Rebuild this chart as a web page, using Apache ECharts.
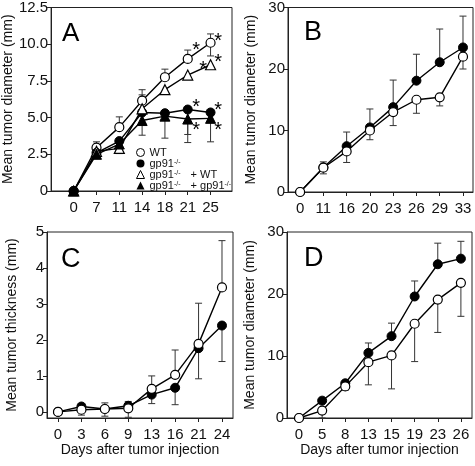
<!DOCTYPE html>
<html><head><meta charset="utf-8">
<script src="https://cdn.jsdelivr.net/npm/echarts@6/dist/echarts.min.js"></script>
<style>html,body{margin:0;padding:0;background:#fff}#c{width:475px;height:466px}</style>
</head><body><div id="c"></div>
<script>
// ---------- DATA ----------
const daysA = ['0','7','11','14','18','21','25'];
const aWT      = [0, 2.95, 4.35, 6.15, 7.75, 9.0, 10.1];
const aWTUp    = [0, 0.4, 0.7, 0.75, 0.55, 0.6, 0.6];
const aWTDn    = [0, 0, 0, 0, 0, 0, 0.9];
const aKO      = [0, 2.6, 3.4, 5.35, 5.3, 5.55, 5.35];
const aKOUp    = [0, 0, 0, 0, 0, 0, 0];
const aKODn    = [0, 0, 0, 0, 0, 1.7, 0];
const aKOWT    = [0, 2.7, 2.9, 5.6, 6.9, 7.9, 8.6];
const aKOWTUp  = [0, 0, 0, 0.95, 0, 0, 0];
const aKOWTDn  = [0, 0, 0.35, 0, 0, 0, 0];
const aKOKO    = [0, 2.5, 3.2, 4.8, 5.1, 4.9, 4.95];
const aKOKOUp  = [0, 0, 0, 0, 0, 0, 0];
const aKOKODn  = [0, 0, 0, 1.0, 1.5, 1.6, 1.6];
const aSig     = [0, 0, 0, 0, 0, 1, 1];
const yTicksA  = [0, 2.5, 5, 7.5, 10, 12.5];

const daysB = ['0','11','16','20','23','26','29','33'];
const bKO   = [0, 4.0, 7.45, 10.5, 13.8, 18.1, 21.1, 23.5];
const bKOUp = [0, 0.9, 2.3, 3.0, 4.4, 4.3, 5.4, 5.1];
const bWT   = [0, 3.95, 6.6, 10.0, 13.0, 15.0, 15.4, 22.0];
const bWTDn = [0, 1.0, 1.8, 1.5, 2.2, 2.2, 1.4, 2.0];
const yTicksB = [0, 10, 20, 30];

const daysC = ['0','3','6','9','13','16','21','24'];
const cWT   = [0, 0.06, 0.08, 0.1, 0.64, 1.03, 1.89, 3.46];
const cWTUp = [0, 0, 0.17, 0.19, 0.36, 0.69, 1.13, 1.3];
const cWTDn = [0, 0.15, 0.2, 0.25, 0, 0, 0, 0];
const cKO   = [0, 0.15, 0.08, 0.17, 0.48, 0.67, 1.77, 2.4];
const cKODn = [0, 0, 0, 0, 0.25, 0.47, 0.85, 1.0];
const yTicksC = [0, 1, 2, 3, 4, 5];

const daysD = ['0','5','8','13','15','19','23','26'];
const dKO   = [0, 2.8, 5.6, 10.5, 13.2, 19.6, 24.8, 25.7];
const dKOUp = [0, 0, 0, 1.6, 2.1, 2.5, 3.4, 2.8];
const dWT   = [0, 1.2, 5.1, 9.0, 10.1, 15.2, 19.1, 21.8];
const dWTDn = [0, 1.2, 0.6, 3.65, 5.4, 6.1, 5.3, 5.4];
const yTicksD = [0, 10, 20, 30];

// ---------- BUILD ----------
const FONT = 'Liberation Sans, Arial, Helvetica, sans-serif';
const grids = [
  {left:47, top:6.5, right:243, bottom:275},
  {left:288, top:6.5, right:2, bottom:274},
  {left:47, top:232, right:242, bottom:48},
  {left:287, top:232, right:3, bottom:48}
].map(g => Object.assign({show:true, borderColor:'#222', borderWidth:1, backgroundColor:'transparent'}, g));

function xAx(gi, days, min, max, withName){
  const idx = days.map((d,i)=>i);
  return {
    type:'value', gridIndex:gi, min:min, max:max,
    splitLine:{show:false},
    axisLine:{show:true, onZero:false, lineStyle:{color:'#222', width:1}},
    axisTick:{show:true, inside:false, length:4, customValues:idx, lineStyle:{color:'#222'}},
    axisLabel:{show:true, customValues:idx, margin:9, fontSize:15, color:'#111', fontFamily:FONT,
      formatter:v => days[Math.round(v)] !== undefined ? days[Math.round(v)] : ''},
    name: withName ? 'Days after tumor injection' : '',
    nameLocation:'middle', nameGap:21,
    nameTextStyle:{fontSize:14, color:'#111', fontFamily:FONT}
  };
}
function yAx(gi, ticks, min, max, name, gap, fmt){
  return {
    type:'value', gridIndex:gi, min:min, max:max,
    splitLine:{show:false},
    axisLine:{show:true, onZero:false, lineStyle:{color:'#222', width:1}},
    axisTick:{show:true, inside:false, length:4, customValues:ticks, lineStyle:{color:'#222'}},
    axisLabel:{show:true, customValues:ticks, margin:3, fontSize:15, color:'#111', fontFamily:FONT, formatter:fmt},
    name:name, nameLocation:'middle', nameGap:gap,
    nameTextStyle:{fontSize:14, color:'#111', fontFamily:FONT}
  };
}
const fmtA = v => v === 0 ? '0' : v.toFixed(1);
const fmtI = v => String(Math.round(v));

const xAxis = [
  xAx(0, daysA, -0.99, 6.94, false),
  xAx(1, daysB, -0.52, 7.43, false),
  xAx(2, daysC, -0.47, 7.47, true),
  xAx(3, daysD, -0.52, 7.48, true)
];
const yAxis = [
  yAx(0, yTicksA, 0, 12.5, 'Mean tumor diameter (mm)', 28, fmtA),
  yAx(1, yTicksB, 0, 30, 'Mean tumor diameter (mm)', 30, fmtI),
  yAx(2, yTicksC, -0.17, 5, 'Mean tumor thickness (mm)', 28, fmtI),
  yAx(3, yTicksD, 0, 30, 'Mean tumor diameter (mm)', 30, fmtI)
];

function errRender(params, api){
  const x = api.value(0), y = api.value(1), up = api.value(2), dn = api.value(3);
  const c = api.coord([x, y]);
  const cap = 3.5;
  const st = {stroke:'#333', lineWidth:1};
  const ch = [];
  if (up > 0){
    const t = api.coord([x, y + up]);
    ch.push({type:'line', shape:{x1:c[0], y1:c[1], x2:t[0], y2:t[1]}, style:st});
    ch.push({type:'line', shape:{x1:t[0]-cap, y1:t[1], x2:t[0]+cap, y2:t[1]}, style:st});
  }
  if (dn > 0){
    const t = api.coord([x, y - dn]);
    ch.push({type:'line', shape:{x1:c[0], y1:c[1], x2:t[0], y2:t[1]}, style:st});
    ch.push({type:'line', shape:{x1:t[0]-cap, y1:t[1], x2:t[0]+cap, y2:t[1]}, style:st});
  }
  return {type:'group', children:ch};
}
function errSeries(gi, vals, up, dn){
  const zeros = vals.map(()=>0);
  up = up || zeros; dn = dn || zeros;
  return {
    type:'custom', xAxisIndex:gi, yAxisIndex:gi, z:1, silent:true,
    renderItem:errRender, encode:{x:0, y:1},
    data: vals.map((v,i)=>[i, v, up[i], dn[i]])
  };
}
const styles = {
  open:   {symbol:'circle', itemStyle:{color:'#fff', borderColor:'#000', borderWidth:1.2}},
  filled: {symbol:'circle', itemStyle:{color:'#000', borderColor:'#000', borderWidth:1}},
  openT:  {symbol:'triangle', itemStyle:{color:'#fff', borderColor:'#000', borderWidth:1.2}},
  filledT:{symbol:'triangle', itemStyle:{color:'#000', borderColor:'#000', borderWidth:1}}
};
function lineSeries(name, gi, vals, kind){
  return Object.assign({
    name:name, type:'line', xAxisIndex:gi, yAxisIndex:gi, z:3,
    symbolSize: kind.indexOf('T') >= 0 ? 10 : 9,
    lineStyle:{color:'#000', width:1.4}, showSymbol:true, animation:false,
    data: vals.map((v,i)=>[i, v])
  }, styles[kind]);
}
// significance asterisks drawn next to flagged points (pixel offsets are styling)
function starSeries(gi, vals, sig, off){
  const data = [];
  vals.forEach((v,i)=>{ if (sig[i]) data.push([i, v]); });
  return {
    type:'custom', xAxisIndex:gi, yAxisIndex:gi, z:6, silent:true,
    encode:{x:0, y:1},
    renderItem:(params, api)=>{
      const i = api.value(0);
      const c = api.coord([i, api.value(1)]);
      const o = off[i] || [0,0];
      return {type:'text', x:c[0] + o[0], y:c[1] + o[1] + 4.5, z2:10,
        style:{text:'*', fontSize:20, fontFamily:FONT, fill:'#000', align:'center', verticalAlign:'middle'}};
    },
    data:data
  };
}

const series = [
  errSeries(0, aWT, aWTUp, aWTDn),
  errSeries(0, aKO, aKOUp, aKODn),
  errSeries(0, aKOWT, aKOWTUp, aKOWTDn),
  errSeries(0, aKOKO, aKOKOUp, aKOKODn),
  lineSeries('WT', 0, aWT, 'open'),
  lineSeries('gp91', 0, aKO, 'filled'),
  lineSeries('gp91WT', 0, aKOWT, 'openT'),
  lineSeries('gp91gp91', 0, aKOKO, 'filledT'),
  starSeries(0, aWT, aSig, {5:[8.5,-13], 6:[7.5,-6]}),
  starSeries(0, aKO, aSig, {5:[8.5,-7], 6:[7.5,-6]}),
  starSeries(0, aKOWT, aSig, {5:[15.5,-10], 6:[7.5,-7]}),
  starSeries(0, aKOKO, aSig, {5:[8.5,7], 6:[7.5,8]}),

  errSeries(1, bKO, bKOUp, null),
  errSeries(1, bWT, null, bWTDn),
  lineSeries('B gp91', 1, bKO, 'filled'),
  lineSeries('B WT', 1, bWT, 'open'),

  errSeries(2, cWT, cWTUp, cWTDn),
  errSeries(2, cKO, null, cKODn),
  lineSeries('C gp91', 2, cKO, 'filled'),
  lineSeries('C WT', 2, cWT, 'open'),

  errSeries(3, dKO, dKOUp, null),
  errSeries(3, dWT, null, dWTDn),
  lineSeries('D gp91', 3, dKO, 'filled'),
  lineSeries('D WT', 3, dWT, 'open')
];

const legendLabels = {
  'WT': '{a|WT}',
  'gp91': '{a|gp91}{s|-/-}',
  'gp91WT': '{a|gp91}{s|-/-}{p|+ WT}',
  'gp91gp91': '{a|gp91}{s|-/-}{p|+ gp91}{s|-/-}'
};

const option = {
  animation:false,
  backgroundColor:'#fff',
  title:[
    {text:'A', left:62, top:21, padding:0, textStyle:{fontSize:26, fontWeight:'normal', color:'#000', fontFamily:FONT}},
    {text:'B', left:304, top:19, padding:0, textStyle:{fontSize:27, fontWeight:'normal', color:'#000', fontFamily:FONT}},
    {text:'C', left:61, top:246, padding:0, textStyle:{fontSize:27, fontWeight:'normal', color:'#000', fontFamily:FONT}},
    {text:'D', left:304, top:245, padding:0, textStyle:{fontSize:27, fontWeight:'normal', color:'#000', fontFamily:FONT}}
  ],
  legend:{
    left:136, top:147, orient:'vertical', itemGap:0, itemWidth:8, itemHeight:8, padding:0,
    selectedMode:false,
    data:[
      {name:'WT', icon:'circle', itemStyle:{color:'#fff', borderColor:'#000', borderWidth:1}},
      {name:'gp91', icon:'circle', itemStyle:{color:'#000', borderColor:'#000', borderWidth:0}},
      {name:'gp91WT', icon:'triangle', itemStyle:{color:'#fff', borderColor:'#000', borderWidth:1}},
      {name:'gp91gp91', icon:'triangle', itemStyle:{color:'#000', borderColor:'#000', borderWidth:0}}
    ],
    formatter: n => legendLabels[n],
    textStyle:{fontSize:11, color:'#111', fontFamily:FONT, lineHeight:10,
      rich:{
        a:{fontSize:11, fontFamily:FONT, color:'#111', lineHeight:10},
        s:{fontSize:7, fontFamily:FONT, color:'#111', verticalAlign:'top', lineHeight:10},
        p:{fontSize:11, fontFamily:FONT, color:'#111', padding:[0,0,0,10], lineHeight:10}
      }}
  },
  grid:grids, xAxis:xAxis, yAxis:yAxis, series:series
};
const chart = echarts.init(document.getElementById('c'), null, {renderer:'canvas'});
chart.setOption(option);
</script></body></html>
